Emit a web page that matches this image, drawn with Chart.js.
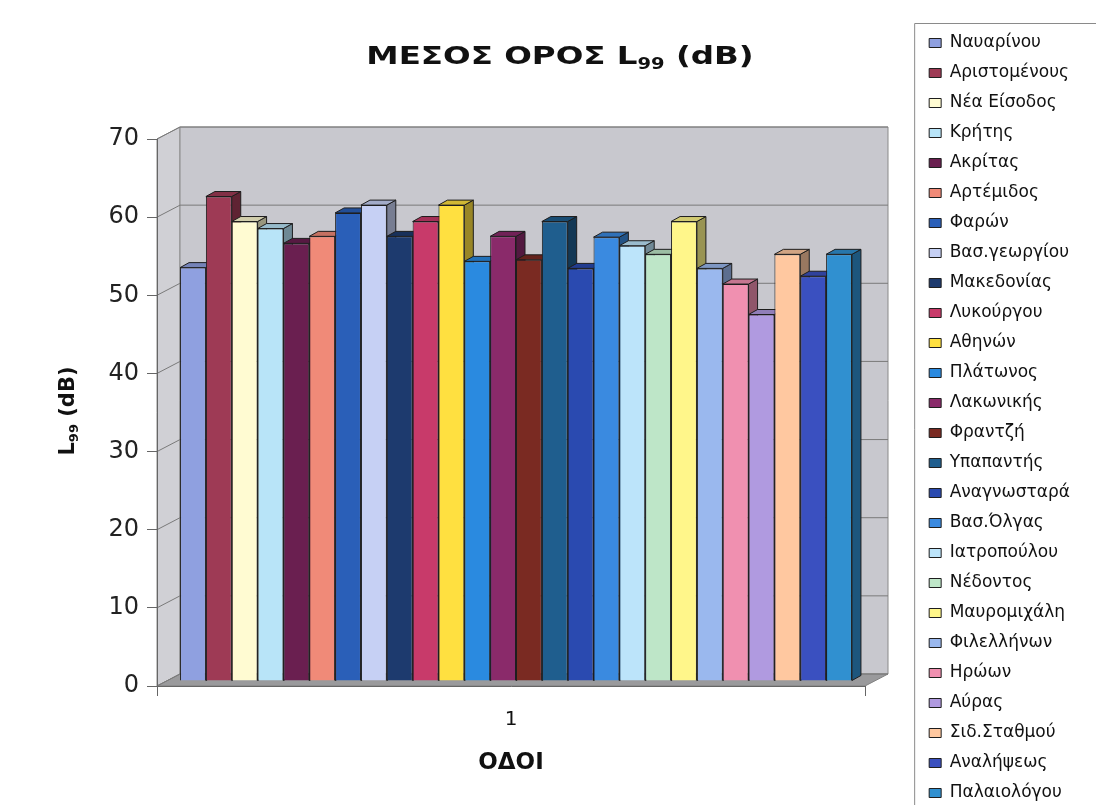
<!DOCTYPE html>
<html>
<head>
<meta charset="utf-8">
<script src="https://cdn.jsdelivr.net/npm/chart.js@4"></script>
<style>
  html, body { margin: 0; padding: 0; background: #fff; overflow: hidden; }
</style>
</head>
<body>
<canvas id="chart1" width="1096" height="836"></canvas>
<script>
// οδοί (series) - one category "1"
var categories = ['1'];
var roads = ['Ναυαρίνου', 'Αριστομένους', 'Νέα Είσοδος', 'Κρήτης', 'Ακρίτας', 'Αρτέμιδος', 'Φαρών',
  'Βασ.γεωργίου', 'Μακεδονίας', 'Λυκούργου', 'Αθηνών', 'Πλάτωνος', 'Λακωνικής', 'Φραντζή',
  'Υπαπαντής', 'Αναγνωσταρά', 'Βασ.Όλγας', 'Ιατροπούλου', 'Νέδοντος', 'Μαυρομιχάλη',
  'Φιλελλήνων', 'Ηρώων', 'Αύρας', 'Σιδ.Σταθμού', 'Αναλήψεως', 'Παλαιολόγου'];
var l99 = [52.9, 62, 58.8, 57.9, 56, 56.9, 59.9, 60.9, 56.9, 58.8, 60.9, 53.7, 56.9, 53.9,
  58.8, 52.8, 56.8, 55.7, 54.6, 58.8, 52.8, 50.8, 46.9, 54.6, 51.8, 54.6];
var colors = ['#8fa0e0', '#9e3a55', '#fffbd2', '#b8e4f8', '#6a1f50', '#f08a78', '#2a5fb8',
  '#c6d0f4', '#1d3a6e', '#c83a6a', '#ffe040', '#2a8ae0', '#8a2a6a', '#7a2a22',
  '#1f5e8e', '#2a4ab0', '#3a8ae0', '#bce4fa', '#bee6c8', '#fff68a',
  '#9ab8ee', '#f090b0', '#b09ae0', '#ffc8a0', '#3a50c0', '#3090d0'];
var yTicks = [0, 10, 20, 30, 40, 50, 60, 70];

// 3d look: wall depth, bar front plane shift, bar depth
var DX = 23, DY = -12, BX = 5, BY = -5, SX = 9, SY = -5;

function shade(hex, f) {
  var n = parseInt(hex.slice(1), 16);
  var r = Math.round(((n >> 16) & 255) * f), g = Math.round(((n >> 8) & 255) * f), b = Math.round((n & 255) * f);
  return 'rgb(' + r + ',' + g + ',' + b + ')';
}

function poly(ctx, pts, fill, stroke) {
  ctx.beginPath();
  ctx.moveTo(pts[0][0], pts[0][1]);
  for (var i = 1; i < pts.length; i++) ctx.lineTo(pts[i][0], pts[i][1]);
  ctx.closePath();
  if (fill) { ctx.fillStyle = fill; ctx.fill(); }
  if (stroke) { ctx.strokeStyle = stroke; ctx.stroke(); }
}

// draws text pieces [text, size, dy] one after the other
function drawParts(ctx, parts, family, x, y) {
  var total = 0;
  parts.forEach(function(p) { ctx.font = 'bold ' + p[1] + 'px ' + family; total += ctx.measureText(p[0]).width; });
  var cx = x - total / 2;
  parts.forEach(function(p) {
    ctx.font = 'bold ' + p[1] + 'px ' + family;
    ctx.fillText(p[0], cx, y + p[2]);
    cx += ctx.measureText(p[0]).width;
  });
  return total;
}

var walls3d = {
  id: 'walls3d',
  beforeDraw: function(chart) {
    var ctx = chart.ctx, ca = chart.chartArea, ys = chart.scales.y;
    ctx.save();
    ctx.lineWidth = 1;
    poly(ctx, [[ca.left, ca.top], [ca.left + DX, ca.top + DY], [ca.left + DX, ca.bottom + DY], [ca.left, ca.bottom]], '#d0d0d5', '#8a8a8a');
    poly(ctx, [[ca.left + DX, ca.top + DY], [ca.right + DX, ca.top + DY], [ca.right + DX, ca.bottom + DY], [ca.left + DX, ca.bottom + DY]], '#c8c8ce', '#8a8a8a');
    poly(ctx, [[ca.left, ca.bottom], [ca.right, ca.bottom], [ca.right + DX, ca.bottom + DY], [ca.left + DX, ca.bottom + DY]], '#9a9a9c', '#808080');
    ctx.strokeStyle = '#7a7a7a';
    yTicks.forEach(function(v) {
      var py = ys.getPixelForValue(v);
      ctx.beginPath();
      ctx.moveTo(ca.left, py);
      ctx.lineTo(ca.left + DX, py + DY);
      ctx.lineTo(ca.right + DX, py + DY);
      ctx.stroke();
    });
    ctx.restore();
  },
  beforeDatasetsDraw: function(chart) {
    var ctx = chart.ctx;
    ctx.save();
    ctx.translate(BX, BY);
    ctx.lineWidth = 1;
    for (var i = 0; i < chart.data.datasets.length; i++) {
      var bar = chart.getDatasetMeta(i).data[0];
      var p = bar.getProps(['x', 'y', 'base', 'width'], true);
      var l = p.x - p.width / 2, r = p.x + p.width / 2;
      var c = colors[i];
      poly(ctx, [[r, p.y], [r + SX, p.y + SY], [r + SX, p.base + SY], [r, p.base]], shade(c, 0.6), '#1e1e1e');
      poly(ctx, [[l, p.y], [r, p.y], [r + SX, p.y + SY], [l + SX, p.y + SY]], shade(c, 0.82), '#1e1e1e');
    }
  },
  afterDatasetsDraw: function(chart) {
    chart.ctx.restore();
  },
  afterDraw: function(chart) {
    var ctx = chart.ctx, lg = chart.legend;
    ctx.save();
    ctx.fillStyle = '#111';
    ctx.textBaseline = 'alphabetic';
    // title
    ctx.save();
    ctx.translate(560, 64);
    ctx.scale(1.3, 1);
    drawParts(ctx, [['ΜΕΣΟΣ ΟΡΟΣ L', 25, 0], ['99', 15, 5], [' (dB)', 25, 0]], '"DejaVu Sans"', 0, 0);
    ctx.restore();
    // y title
    ctx.save();
    ctx.translate(74, 411);
    ctx.rotate(-Math.PI / 2);
    drawParts(ctx, [['L', 21, 0], ['99', 13, 4], [' (dB)', 21, 0]], '"DejaVu Sans"', 0, 0);
    ctx.restore();
    // legend frame
    ctx.strokeStyle = '#8a8a8a';
    ctx.lineWidth = 1;
    ctx.beginPath();
    ctx.moveTo(1096, 23.5);
    ctx.lineTo(lg.left - 1.5, 23.5);
    ctx.lineTo(lg.left - 1.5, chart.height);
    ctx.stroke();
    ctx.restore();
  }
};

var datasets = roads.map(function(name, i) {
  return {
    label: name,
    data: [l99[i]],
    backgroundColor: colors[i],
    borderColor: '#1e1e1e',
    borderWidth: 1,
    categoryPercentage: 0.949,
    barPercentage: 1.0
  };
});

var chart = new Chart(document.getElementById('chart1'), {
  type: 'bar',
  data: { labels: categories, datasets: datasets },
  plugins: [walls3d],
  options: {
    responsive: false,
    animation: false,
    layout: { padding: { top: 0, bottom: 0, left: 0, right: 16 } },
    plugins: {
      tooltip: { enabled: false },
      title: { display: true, text: ' ', fullSize: false, font: { size: 10 }, padding: { top: 127, bottom: 0 } },
      legend: {
        position: 'right',
        align: 'center',
        labels: {
          boxWidth: 12,
          boxHeight: 9,
          padding: 13,
          color: '#111',
          font: { family: '"DejaVu Sans"', size: 17 }
        }
      }
    },
    scales: {
      x: {
        offset: true,
        grid: { display: true, drawOnChartArea: false, offset: true, tickLength: 10, color: '#666' },
        border: { display: true, color: '#666' },
        ticks: { color: '#111', padding: 12, font: { family: '"DejaVu Sans"', size: 20 } },
        title: { display: true, text: 'ΟΔΟΙ', color: '#111', padding: { top: 4, bottom: 59 },
          font: { family: '"DejaVu Sans"', size: 23, weight: 'bold' } },
        afterFit: function(s) { s.height = 150; }
      },
      y: {
        min: 0,
        max: 70,
        ticks: { stepSize: 10, color: '#222', padding: 8, font: { family: '"DejaVu Sans"', size: 24 } },
        grid: { display: true, drawOnChartArea: false, tickLength: 10, color: '#666' },
        border: { display: true, color: '#666' },
        afterFit: function(s) { s.width = 157; }
      },
      spacer: {
        type: 'linear',
        position: 'right',
        display: true,
        grid: { display: false },
        ticks: { display: false },
        border: { display: false },
        afterFit: function(s) { s.width = Math.max(0, 1096 - 16 - 865 - (s.chart.legend ? s.chart.legend.width : 0)); }
      }
    }
  }
});
</script>
</body>
</html>
